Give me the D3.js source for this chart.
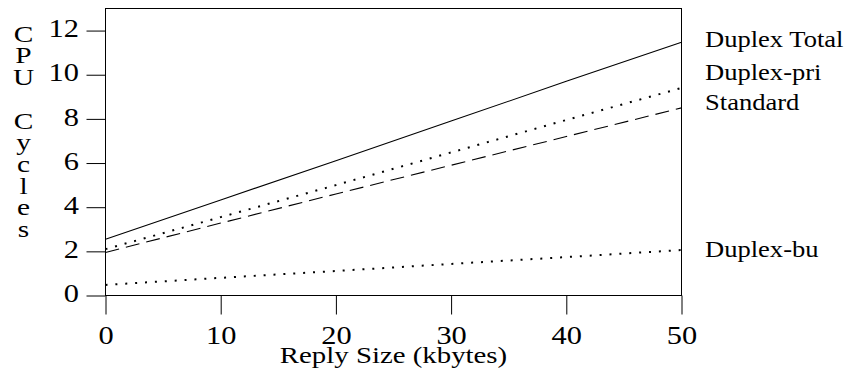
<!DOCTYPE html>
<html>
<head>
<meta charset="utf-8">
<script src="https://cdn.jsdelivr.net/npm/d3@7"></script>
<style>
  body { margin: 0; background: #fff; }
  text { font-family: "Liberation Serif", "Times New Roman", serif; fill: #000; }
</style>
</head>
<body>
<div id="chart"></div>
<script>
// values
var replySize = [0, 10, 20, 30, 40, 50];
var duplexTotal = [2.55, 4.33, 6.1, 7.9, 9.7, 11.47];
var duplexPri = [2.1, 3.55, 5.0, 6.48, 7.95, 9.4];
var standard = [1.95, 3.28, 4.6, 5.9, 7.2, 8.5];
var duplexBu = [0.48, 0.8, 1.11, 1.43, 1.74, 2.06];

var seriesNames = ["Duplex Total", "Duplex-pri", "Standard", "Duplex-bu"];
var xTicks = [0, 10, 20, 30, 40, 50];
var yTicks = [0, 2, 4, 6, 8, 10, 12];
var xTitle = "Reply Size (kbytes)";
var yTitle = "CPU Cycles";

var width = 850, height = 373;
var stretch = 1.17; // text in the picture is a bit wider than it is tall

var svg = d3.select("#chart").append("svg")
    .attr("width", width)
    .attr("height", height);

var x = d3.scaleLinear().domain([0, 50]).range([105.5, 681.5]);
var y = d3.scaleLinear().domain([0, 13]).range([295.5, 8.5]);

// frame
svg.append("rect")
    .attr("x", x(0))
    .attr("y", y(13))
    .attr("width", x(50) - x(0))
    .attr("height", y(0) - y(13))
    .attr("fill", "none")
    .attr("stroke", "#000")
    .attr("stroke-width", 1);

// x axis
var xAxis = svg.append("g")
    .attr("transform", "translate(0," + y(0) + ")")
    .call(d3.axisBottom(x).tickValues(xTicks).tickSize(19).tickSizeOuter(0));
xAxis.select(".domain").remove();
xAxis.selectAll("line").attr("stroke", "#000");
xAxis.selectAll("text")
    .attr("y", 48.5)
    .attr("dy", 0)
    .attr("transform", "scale(" + stretch + ",1)")
    .attr("x", 0)
    .style("font-size", "26px")
    .style("font-family", "'Liberation Serif', 'Times New Roman', serif");

// y axis
var yAxis = svg.append("g")
    .attr("transform", "translate(" + x(0) + ",0)")
    .call(d3.axisLeft(y).tickValues(yTicks).tickSize(19).tickSizeOuter(0));
yAxis.select(".domain").remove();
yAxis.selectAll("line").attr("stroke", "#000");
yAxis.selectAll("text")
    .attr("x", -26.5 / stretch)
    .attr("dy", "0.24em")
    .attr("transform", "scale(" + stretch + ",1)")
    .style("font-size", "26px")
    .style("font-family", "'Liberation Serif', 'Times New Roman', serif");

// series
var series = [
    { name: seriesNames[0], values: duplexTotal, dash: null, w: 1.1, nudge: 5 },
    { name: seriesNames[1], values: duplexPri, dash: "2,7.9", w: 2, nudge: -7.5 },
    { name: seriesNames[2], values: standard, dash: "14,7", w: 1.1, nudge: 2.5 },
    { name: seriesNames[3], values: duplexBu, dash: "2,7.9", w: 2, nudge: 6.5 }
];

var line = d3.line()
    .x(function (d, i) { return x(replySize[i]); })
    .y(function (d) { return y(d); });

svg.selectAll(".series")
    .data(series)
    .enter().append("path")
    .attr("class", "series")
    .attr("d", function (d) { return line(d.values); })
    .attr("fill", "none")
    .attr("stroke", "#000")
    .attr("stroke-width", function (d) { return d.w; })
    .attr("stroke-dasharray", function (d) { return d.dash; });

// labels at the line ends
svg.selectAll(".label")
    .data(series)
    .enter().append("text")
    .attr("class", "label")
    .attr("transform", function (d) {
        var last = d.values[d.values.length - 1];
        return "translate(705," + (y(last) + d.nudge) + ") scale(" + stretch + ",1)";
    })
    .style("font-size", "22.7px")
    .text(function (d) { return d.name; });

// x title
svg.append("text")
    .attr("transform", "translate(" + ((x(0) + x(50)) / 2) + ",363) scale(1.27,1)")
    .attr("text-anchor", "middle")
    .style("font-size", "22.7px")
    .text(xTitle);

// y title, one letter per row
svg.selectAll(".ytitle")
    .data(yTitle.split(""))
    .enter().append("text")
    .attr("class", "ytitle")
    .attr("transform", function (d, i) {
        return "translate(23.5," + (41.7 + i * 21.7) + ") scale(1.25,1)";
    })
    .attr("text-anchor", "middle")
    .style("font-size", "23.5px")
    .text(function (d) { return d; });
</script>
</body>
</html>
